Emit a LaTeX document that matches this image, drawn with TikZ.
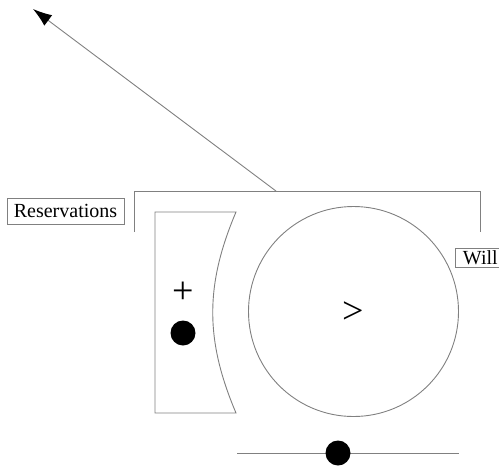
\documentclass[tikz,border=0pt]{standalone}
\usepackage{fontspec}
\setmainfont{Liberation Serif}
\usetikzlibrary{arrows.meta}
\begin{document}
\begin{tikzpicture}[x=1pt,y=-1pt,
  edge/.style={draw=black!50,line width=0.9pt},
  lbl/.style={draw=black!50,line width=0.9pt,fill=white,font=\fontsize{20}{22}\selectfont,text=black},
  sym/.style={font=\fontsize{38}{38}\selectfont,inner sep=0pt},
  dot/.style={circle,fill=black,inner sep=0pt,minimum size=25pt}]
\useasboundingbox (0,0) rectangle (499,467);
% labels
\node[lbl,minimum width=117pt,minimum height=26pt,inner sep=1pt] (res) at (65.5,211) {Reservations};
\node[lbl,anchor=north west,inner xsep=7.5pt,inner ysep=0pt,text height=14pt,text depth=1pt,minimum height=19pt] (will) at (455,248) {Will};
% bracket
\coordinate (bl) at (134,232);
\coordinate (tl) at (134,191);
\coordinate (tr) at (480,191);
\coordinate (br) at (480,232);
\coordinate (start) at (276,191);
\coordinate (tip) at (33,9);
\draw[edge] (bl) -- (tl) -- (tr) -- (br);
\draw[edge,-{Latex[length=19pt,width=13pt,black]}] (start) -- (tip);
% left shape
\draw[edge] (155,212) -- (236,212) .. controls (205,285) and (205,340) .. (236,413) -- (155,413) -- cycle;
\node[sym] (plus) at (183,293) {+};
\node[dot] (d1) at (183,333) {};
% circle
\node[circle,draw=black!50,line width=0.9pt,minimum size=210pt,inner sep=0pt] (circ) at (353.5,311.5) {};
\node[sym] (gt) at (353,313) {>};
% bottom line
\coordinate (ll) at (237,453);
\coordinate (lr) at (459,453);
\draw[edge] (ll) -- (lr);
\node[dot] (d2) at (338,453) {};
\end{tikzpicture}
\end{document}
